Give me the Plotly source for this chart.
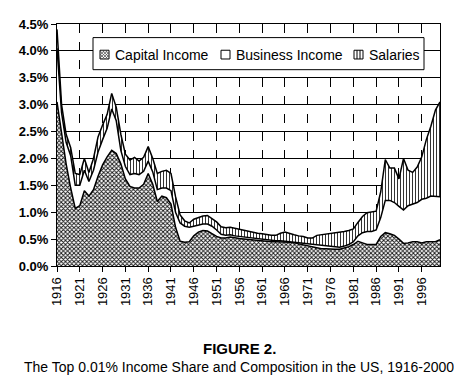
import plotly.graph_objects as go

years = list(range(1916, 2001))

# boundary readings (percent of total income)
capital_top = [3.05, 2.45, 1.90, 1.45, 1.07, 1.12, 1.40, 1.30, 1.42, 1.67,
               1.88, 2.03, 2.15, 2.09, 1.90, 1.62, 1.48, 1.45, 1.45, 1.52,
               1.72, 1.52, 1.20, 1.30, 1.27, 1.15, 0.72, 0.46, 0.44, 0.45,
               0.56, 0.63, 0.66, 0.65, 0.60, 0.55, 0.52, 0.52, 0.54, 0.52,
               0.51, 0.50, 0.49, 0.48, 0.47, 0.46, 0.46, 0.45, 0.45, 0.45,
               0.45, 0.44, 0.43, 0.41, 0.39, 0.37, 0.35, 0.33, 0.32, 0.32,
               0.31, 0.31, 0.31, 0.33, 0.36, 0.40, 0.46, 0.43, 0.40, 0.40,
               0.40, 0.55, 0.62, 0.60, 0.57, 0.50, 0.42, 0.43, 0.45, 0.45,
               0.43, 0.45, 0.45, 0.45, 0.49]
business_top = [4.05, 2.85, 2.30, 2.05, 1.50, 1.50, 1.78, 1.57, 1.78, 2.12,
                2.35, 2.56, 2.92, 2.70, 2.15, 1.85, 1.70, 1.72, 1.70, 1.76,
                1.95, 1.75, 1.42, 1.45, 1.45, 1.40, 1.00, 0.80, 0.74, 0.72,
                0.74, 0.76, 0.78, 0.78, 0.74, 0.67, 0.59, 0.57, 0.58, 0.56,
                0.55, 0.53, 0.52, 0.51, 0.50, 0.49, 0.48, 0.47, 0.47, 0.47,
                0.46, 0.46, 0.45, 0.43, 0.42, 0.42, 0.41, 0.40, 0.39, 0.38,
                0.37, 0.36, 0.35, 0.37, 0.40, 0.45, 0.56, 0.62, 0.64, 0.64,
                0.67, 0.90, 1.22, 1.22, 1.18, 1.11, 1.04, 1.12, 1.15, 1.18,
                1.24, 1.26, 1.30, 1.30, 1.29]
total = [4.40, 3.00, 2.45, 2.20, 1.72, 1.70, 2.00, 1.74, 2.00, 2.40,
         2.62, 2.82, 3.21, 2.95, 2.45, 2.08, 1.97, 2.02, 1.95, 2.02,
         2.22, 2.00, 1.72, 1.76, 1.78, 1.72, 1.29, 0.95, 0.84, 0.80,
         0.87, 0.90, 0.93, 0.94, 0.88, 0.82, 0.73, 0.71, 0.72, 0.70,
         0.68, 0.66, 0.64, 0.63, 0.61, 0.60, 0.58, 0.57, 0.57, 0.61,
         0.63, 0.60, 0.58, 0.56, 0.55, 0.52, 0.52, 0.57, 0.58, 0.59,
         0.60, 0.61, 0.62, 0.64, 0.66, 0.69, 0.81, 0.92, 0.99, 1.00,
         1.02, 1.38, 1.98, 1.82, 1.82, 1.62, 2.00, 1.78, 1.74, 1.84,
         2.03, 2.35, 2.60, 2.90, 3.05]

capital = capital_top
business = [round(b - c, 3) for b, c in zip(business_top, capital_top)]
salaries = [round(t - b, 3) for t, b in zip(total, business_top)]

series_names = ["Capital Income", "Business Income", "Salaries"]
tick_years = list(range(1916, 2000, 5))
y_ticks = [0, 0.5, 1.0, 1.5, 2.0, 2.5, 3.0, 3.5, 4.0, 4.5]

W, H = 462, 385
ML, MR, MT, MB = 49, 30, 9, 127
PW, PH = W - ML - MR, H - MT - MB


def px_x(px):
    return (px - ML) / PW


def px_y(py):
    return (H - MB - py) / PH


cap_pattern = dict(shape="x", size=3, solidity=0.5, fgcolor="#111", bgcolor="white", fillmode="replace")
sal_pattern = dict(shape="|", size=3, solidity=0.35, fgcolor="#333", bgcolor="white", fillmode="replace")

fig = go.Figure()
line = dict(color="black", width=1.5)
for name, vals, pat in zip(series_names, [capital, business, salaries], [cap_pattern, None, sal_pattern]):
    kw = dict(fillpattern=pat) if pat else {}
    fig.add_trace(go.Scatter(x=years, y=vals, name=name, stackgroup="one", mode="lines", line=line,
                             fillcolor="white", showlegend=False, **kw))

# ---- legend box drawn by hand so swatches sit close to their labels ----
shapes = [dict(type="rect", xref="paper", yref="paper",
               x0=px_x(85), x1=px_x(416), y0=px_y(56), y1=px_y(23),
               fillcolor="white", line=dict(color="black", width=1), layer="above")]
annotations = []
swatch_left = [92, 213, 346]
text_left = [105, 226, 359]
sw = 9
sy0, sy1 = 36, 45
for i, (name, sx) in enumerate(zip(series_names, swatch_left)):
    shapes.append(dict(type="rect", xref="paper", yref="paper",
                       x0=px_x(sx), x1=px_x(sx + sw), y0=px_y(sy1), y1=px_y(sy0),
                       fillcolor="white", line=dict(color="black", width=1), layer="above"))
    if i == 0:  # cross-hatch
        for c in range(-sw + 2, sw - 1, 3):
            xa, ya = max(0, c), max(0, -c)
            xb, yb = min(sw, sw + c), min(sw, sw - c)
            for (x0, y0, x1, y1) in [(xa, ya, xb, yb), (xa, sw - ya, xb, sw - yb)]:
                shapes.append(dict(type="line", xref="paper", yref="paper",
                                   x0=px_x(sx + x0), y0=px_y(sy0 + y0),
                                   x1=px_x(sx + x1), y1=px_y(sy0 + y1),
                                   line=dict(color="#555", width=0.8), layer="above"))
    elif i == 2:  # vertical lines
        for lx in (3, 6):
            shapes.append(dict(type="line", xref="paper", yref="paper",
                               x0=px_x(sx + lx), x1=px_x(sx + lx), y0=px_y(sy1), y1=px_y(sy0),
                               line=dict(color="black", width=1), layer="above"))
    annotations.append(dict(text=name, x=px_x(text_left[i]), y=px_y(40.5), xref="paper", yref="paper",
                            showarrow=False, xanchor="left", yanchor="middle", font=dict(size=14)))

annotations += [
    dict(text="<b>FIGURE 2.</b>", x=px_x(231), y=px_y(343), xref="paper", yref="paper",
         showarrow=False, xanchor="center", yanchor="middle", font=dict(size=15)),
    dict(text="The Top 0.01% Income Share and Composition in the US, 1916-2000",
         x=px_x(231), y=px_y(362), xref="paper", yref="paper", showarrow=False,
         xanchor="center", yanchor="middle", font=dict(size=14)),
]

fig.update_layout(
    width=W, height=H,
    margin=dict(l=ML, r=MR, t=MT, b=MB),
    paper_bgcolor="white", plot_bgcolor="white",
    font=dict(family="Liberation Sans, Arial, sans-serif", color="black"),
    showlegend=False,
    xaxis=dict(range=[1916, 2000], tickvals=tick_years, ticktext=[str(y) for y in tick_years],
               tickangle=-90, tickfont=dict(size=13), ticks="outside", ticklen=5,
               tickcolor="black", showline=True, linecolor="black", linewidth=1, mirror=True,
               showgrid=True, gridcolor="black", gridwidth=1, griddash="dash", zeroline=False),
    yaxis=dict(range=[0, 4.5], tickvals=y_ticks, ticktext=[f"<b>{v:.1f}%</b>" for v in y_ticks],
               tickfont=dict(size=13),
               ticks="outside", ticklen=5, tickcolor="black",
               showline=True, linecolor="black", linewidth=1, mirror=True,
               showgrid=True, gridcolor="black", gridwidth=1, zeroline=False),
    shapes=shapes,
    annotations=annotations,
)

fig.write_html("out.html")
